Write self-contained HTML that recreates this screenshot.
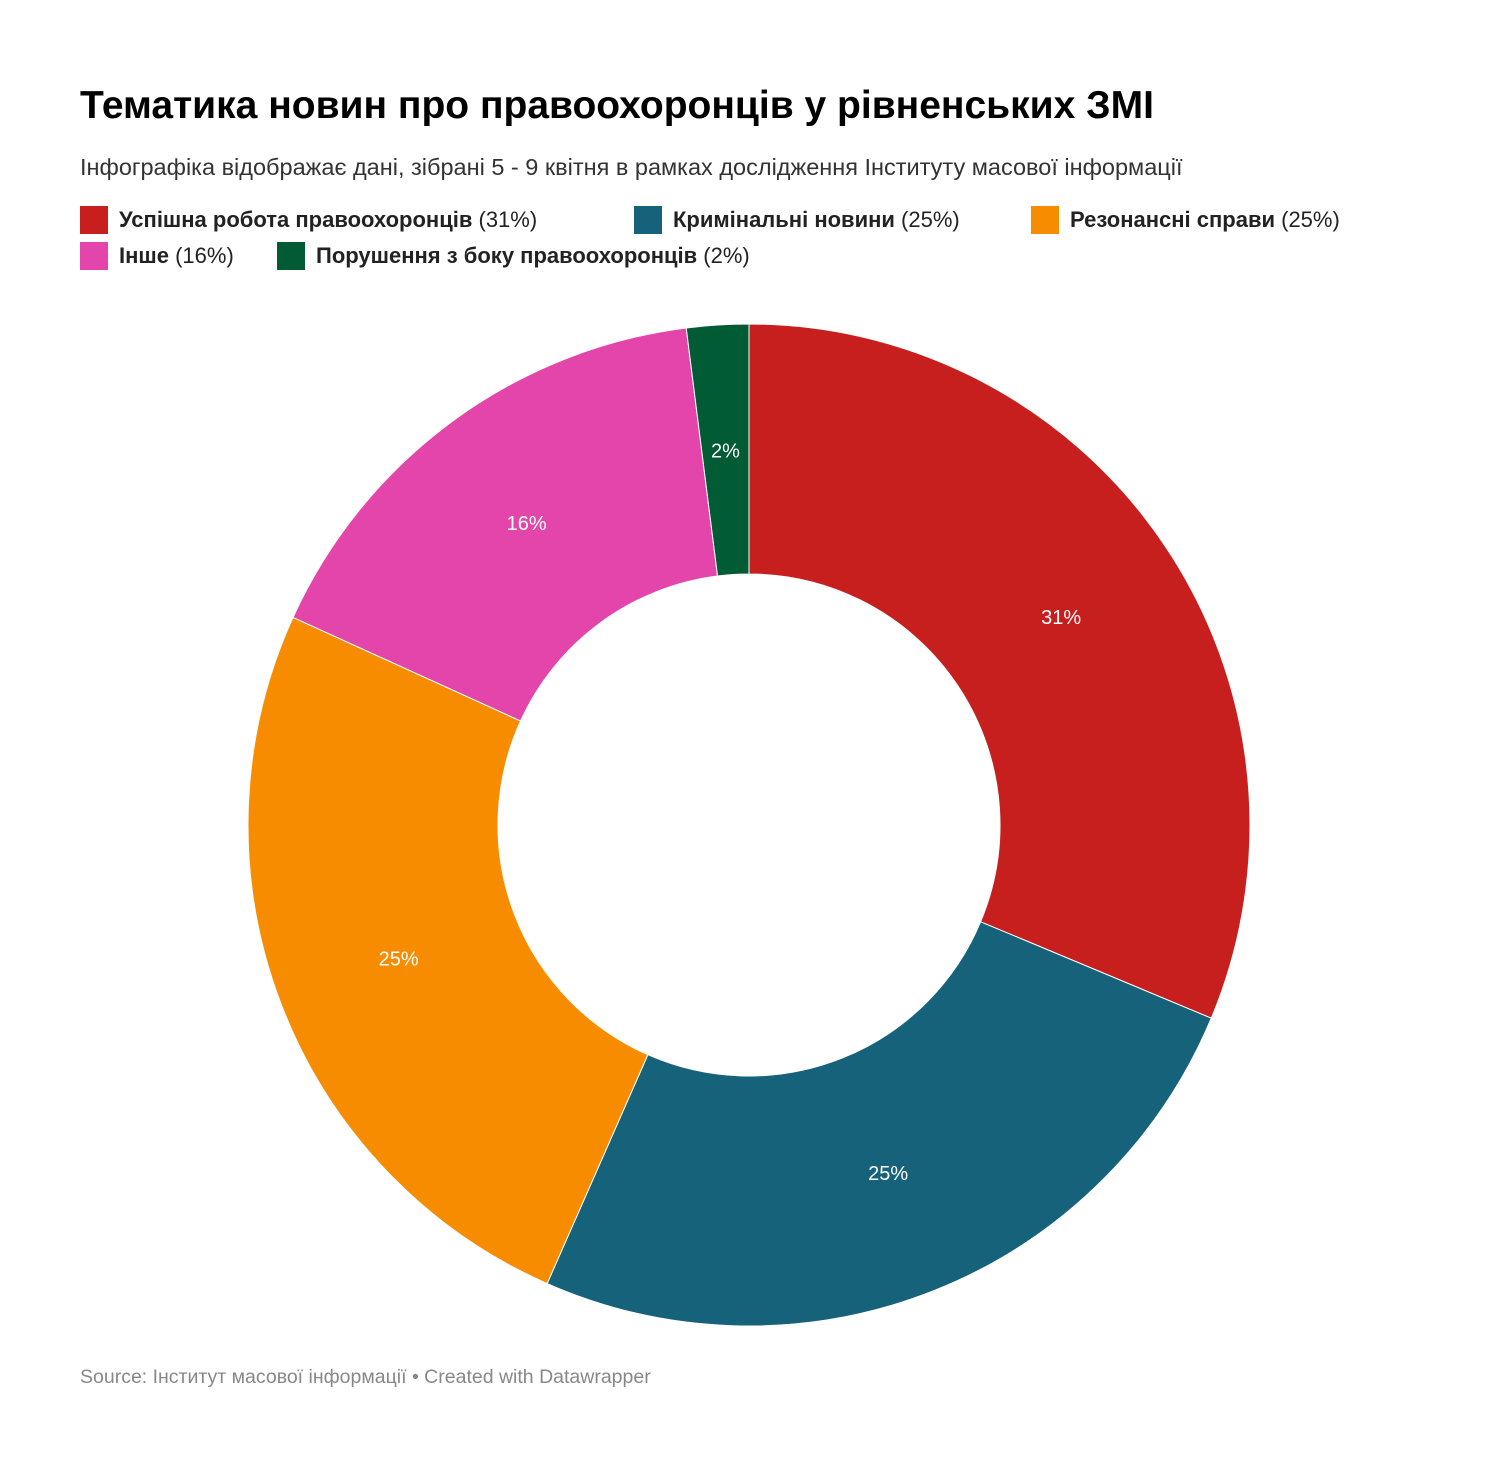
<!DOCTYPE html>
<html><head><meta charset="utf-8">
<style>
body{margin:0;background:#fff;width:1496px;height:1472px;overflow:hidden;font-family:"Liberation Sans","DejaVu Sans",sans-serif;}
#title{position:absolute;left:80px;top:84px;font-size:39px;font-weight:bold;color:#000;margin:0;}
#sub{position:absolute;left:80px;top:154px;font-size:23.5px;color:#333;}
.leg{position:absolute;font-size:22px;color:#222;display:flex;align-items:center;}
.leg b{font-weight:bold;}
.sw{width:28px;height:28px;margin-right:11px;}
#src{position:absolute;left:80px;top:1366px;font-size:19.5px;color:#888;}
</style></head><body>
<h1 id="title">Тематика новин про правоохоронців у рівненських ЗМІ</h1>
<div id="sub">Інфографіка відображає дані, зібрані 5 - 9 квітня в рамках дослідження Інституту масової інформації</div>
<div class="leg" style="left:80px;top:206px"><span class="sw" style="background:#c71e1e"></span><span><b>Успішна робота правоохоронців</b> (31%)</span></div>
<div class="leg" style="left:634px;top:206px"><span class="sw" style="background:#16627b"></span><span><b>Кримінальні новини</b> (25%)</span></div>
<div class="leg" style="left:1031px;top:206px"><span class="sw" style="background:#f88c00"></span><span><b>Резонансні справи</b> (25%)</span></div>
<div class="leg" style="left:80px;top:242px"><span class="sw" style="background:#e445aa"></span><span><b>Інше</b> (16%)</span></div>
<div class="leg" style="left:277px;top:242px"><span class="sw" style="background:#015b34"></span><span><b>Порушення з боку правоохоронців</b> (2%)</span></div>
<svg id="chart" width="1496" height="1472" style="position:absolute;left:0;top:0"></svg>
<div id="src">Source: Інститут масової інформації • Created with Datawrapper</div>
<script>
const categories=["Успішна робота правоохоронців","Кримінальні новини","Резонансні справи","Інше","Порушення з боку правоохоронців"];
const values=[31.3,25.3,25.2,16.2,2.0];
const labels=["31%","25%","25%","16%","2%"];
const colors=["#c71e1e","#16627b","#f88c00","#e445aa","#015b34"];
const svg=document.getElementById('chart');
const NS="http://www.w3.org/2000/svg";
const cx=749,cy=825,R=501,r=251;
const total=values.reduce((a,b)=>a+b,0);
function pt(a,rad){return [cx+rad*Math.sin(a),cy-rad*Math.cos(a)];}
let acc=0;
values.forEach((v,i)=>{
  const a0=acc/total*2*Math.PI; acc+=v; const a1=acc/total*2*Math.PI;
  const lg=(a1-a0)>Math.PI?1:0;
  const p1=pt(a0,R),p2=pt(a1,R),p3=pt(a1,r),p4=pt(a0,r);
  const path=document.createElementNS(NS,'path');
  path.setAttribute('d',`M${p1[0]},${p1[1]}A${R},${R} 0 ${lg} 1 ${p2[0]},${p2[1]}L${p3[0]},${p3[1]}A${r},${r} 0 ${lg} 0 ${p4[0]},${p4[1]}Z`);
  path.setAttribute('fill',colors[i]);
  path.setAttribute('stroke','#fff');
  path.setAttribute('stroke-width','1');
  
  
  svg.appendChild(path);
  const m=(a0+a1)/2, lp=pt(m,375);
  const t=document.createElementNS(NS,'text');
  t.setAttribute('x',lp[0]);t.setAttribute('y',lp[1]+7);
  t.setAttribute('text-anchor','middle');t.setAttribute('fill','#fff');
  t.setAttribute('font-size','20');t.setAttribute('font-family','"Liberation Sans",sans-serif');
  t.textContent=labels[i];
  
  
  svg.appendChild(t);
});
</script>
</body></html>
